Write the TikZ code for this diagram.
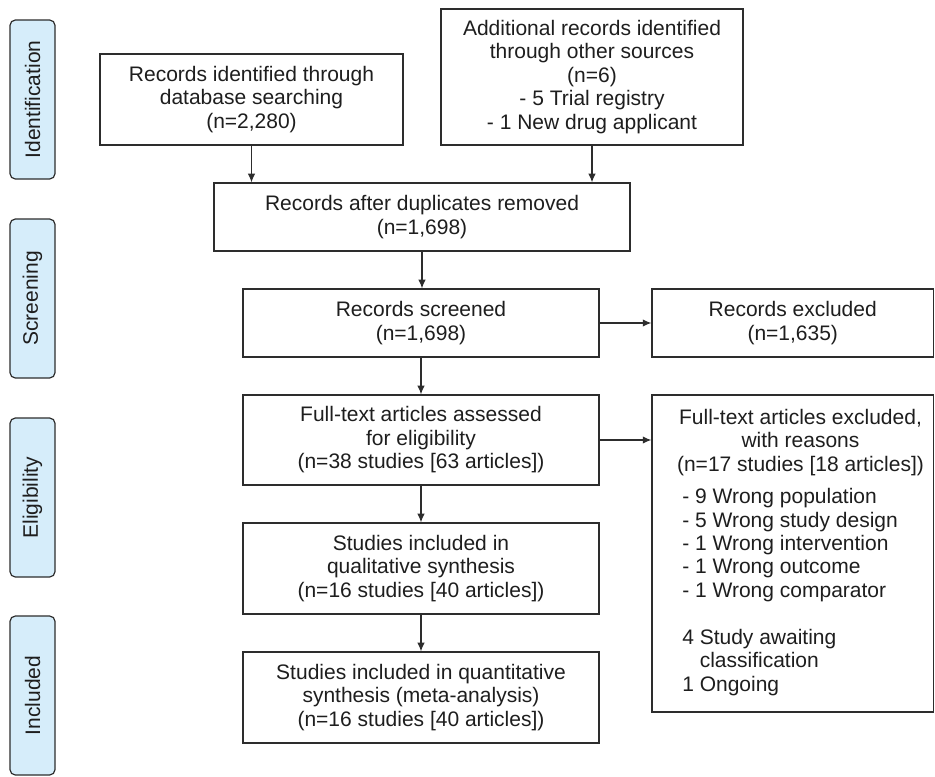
\documentclass[tikz,border=0pt]{standalone}
\usepackage{fontspec}
\setmainfont{Liberation Sans}
\usetikzlibrary{arrows.meta}
\definecolor{barfill}{RGB}{214,237,250}
\definecolor{linec}{RGB}{45,45,45}
\definecolor{txtc}{RGB}{30,30,30}
\tikzset{
  flowbox/.style={draw=linec, line width=0.9pt, fill=white, inner sep=0pt, align=center, text=txtc},
  phasebar/.style={draw=linec, line width=0.9pt, fill=barfill, rounded corners=4pt, rotate=90,
    minimum width=119.25pt, minimum height=33.75pt, inner sep=0pt, text=txtc},
  flowarrow/.style={draw=linec, line width=0.9pt, -{Latex[length=6.5pt,width=5.5pt]}},
  plain/.style={inner sep=0pt, text=txtc}
}
\begin{document}
\begin{tikzpicture}[x=0.75pt, y=-0.75pt, every node/.append style={font=\fontsize{15.75}{17.6}\selectfont}]
\useasboundingbox (0,0) rectangle (935,776);

% phase bars
\node[phasebar] (ident) at (32.5,99.5) {Identification};
\node[phasebar] (screen) at (32.5,298.5) {Screening};
\node[phasebar] (elig) at (32.5,497.5) {Eligibility};
\node[phasebar] (incl) at (32.5,695.5) {Included};

% boxes
\node[flowbox, minimum width=227.25pt, minimum height=68.25pt] (db) at (251.5,99.5)
  {Records identified through\\database searching\\(n=2,280)};
\node[flowbox, minimum width=226.5pt, minimum height=102pt] (add) at (592,77)
  {Additional records identified\\through other sources\\(n=6)\\- 5 Trial registry\\- 1 New drug applicant};
\node[flowbox, minimum width=312pt, minimum height=51pt] (dup) at (422,217)
  {Records after duplicates removed\\(n=1,698)};
\node[flowbox, minimum width=267pt, minimum height=51pt] (scr) at (421,323)
  {Records screened\\(n=1,698)};
\node[flowbox, minimum width=211.1pt, minimum height=51pt] (exc) at (792.75,323)
  {Records excluded\\(n=1,635)};
\node[flowbox, minimum width=267pt, minimum height=67.5pt] (fta) at (421,440)
  {Full-text articles assessed\\for eligibility\\(n=38 studies [63 articles])};
\node[flowbox, minimum width=211.1pt, minimum height=237.75pt] (fte) at (792.75,553.5) {};
\node[plain, align=center] (ftetitle) at (800.5,442.5)
  {Full-text articles excluded,\\with reasons\\(n=17 studies [18 articles])};
\node[plain, align=left, anchor=west] (ftelist) at (682,592)
  {- 9 Wrong population\\- 5 Wrong study design\\- 1 Wrong intervention\\- 1 Wrong outcome\\- 1 Wrong comparator\\[17.6pt]4 Study awaiting\\\hphantom{4 }classification\\1 Ongoing};
\node[flowbox, minimum width=267pt, minimum height=68.25pt] (qual) at (421,568.5)
  {Studies included in\\qualitative synthesis\\(n=16 studies [40 articles])};
\node[flowbox, minimum width=267pt, minimum height=68.25pt] (quant) at (421,697.5)
  {Studies included in quantitative\\synthesis (meta-analysis)\\(n=16 studies [40 articles])};

% connectors
\draw[flowarrow] (db.south) -- (db.south |- dup.north);
\draw[flowarrow] (add.south) -- (add.south |- dup.north);
\draw[flowarrow] (dup.south) -- (dup.south |- scr.north);
\draw[flowarrow] (scr.east) -- (exc.west);
\draw[flowarrow] (scr.south) -- (fta.north);
\draw[flowarrow] (fta.east) -- (fta.east -| fte.west);
\draw[flowarrow] (fta.south) -- (qual.north);
\draw[flowarrow] (qual.south) -- (quant.north);
\end{tikzpicture}
\end{document}
